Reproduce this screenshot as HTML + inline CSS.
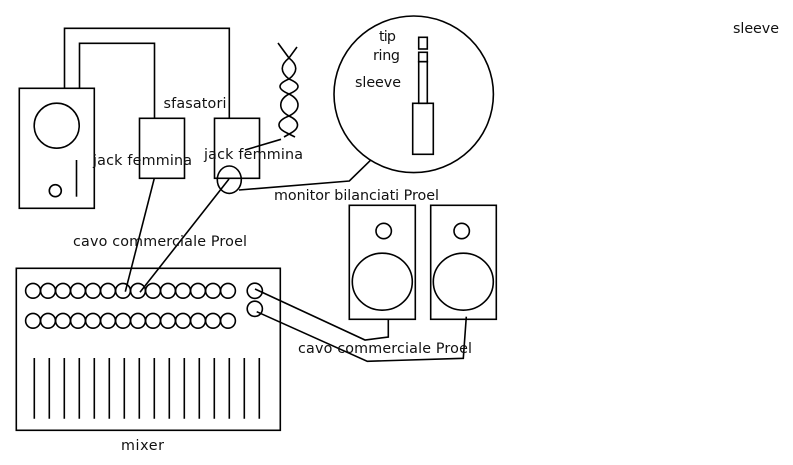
<!DOCTYPE html>
<html><head><meta charset="utf-8"><style>
html,body{margin:0;padding:0;background:#fff}
svg{display:block}
text{font-family:"DejaVu Sans",sans-serif;font-size:14.3px;fill:#111}
</style></head><body>
<svg width="793" height="465" viewBox="0 0 793 465" xmlns="http://www.w3.org/2000/svg">
<rect width="793" height="465" fill="#fff"/>
<g fill="none" stroke="#000" stroke-width="1.6">
<rect x="19.3" y="88.3" width="75" height="120"/>
<ellipse cx="56.7" cy="125.7" rx="22.5" ry="22.5"/>
<circle cx="55.3" cy="190.7" r="6"/>
<path d="M76.5 160V196.7"/>
<path d="M64.5 88.3V28.3H229.3V118.3"/>
<path d="M79.5 88.3V43.3H154.5V118.3"/>
<rect x="139.5" y="118.3" width="45" height="60"/>
<rect x="214.5" y="118.3" width="45" height="60"/>
<ellipse cx="229.3" cy="179.7" rx="12" ry="13.7"/>
<path d="M154.3 178.3L125.3 291.7"/>
<path d="M229 179L140 292.3"/>
<path d="M239 190L349.3 181L370.5 160.3"/>
<path d="M245 150L281 139.3"/>
<path d="M278 43L289 58C298 65 298 72 289 79C277 84 277 89 289 94C301 100 301 110 289 116C276 121 276 128 287 133L295 137"/>
<path d="M297 47L289 58C280 65 280 72 289 79C301 84 301 89 289 94C278 100 278 110 289 116C300 121 300 128 291 133L284 137"/>
<ellipse cx="413.7" cy="94.3" rx="79.7" ry="78.3"/>
<rect x="418.7" y="37.3" width="8.6" height="11.7"/>
<rect x="418.7" y="52.3" width="8.6" height="9.4"/>
<rect x="418.7" y="61.7" width="8.6" height="41.6"/>
<rect x="412.7" y="103.3" width="20.6" height="51"/>
<rect x="349.3" y="205.3" width="66" height="114"/>
<circle cx="383.7" cy="231" r="7.7"/>
<ellipse cx="382.3" cy="281.7" rx="30" ry="28.5"/>
<rect x="430.7" y="205.3" width="65.6" height="114"/>
<circle cx="461.7" cy="231" r="7.7"/>
<ellipse cx="463.3" cy="281.7" rx="30" ry="28.5"/>
<rect x="16.3" y="268.3" width="264" height="162"/>
<circle cx="33" cy="290.8" r="7.4"/><circle cx="48" cy="290.8" r="7.4"/><circle cx="63" cy="290.8" r="7.4"/><circle cx="78" cy="290.8" r="7.4"/><circle cx="93" cy="290.8" r="7.4"/><circle cx="108" cy="290.8" r="7.4"/><circle cx="123" cy="290.8" r="7.4"/><circle cx="138" cy="290.8" r="7.4"/><circle cx="153" cy="290.8" r="7.4"/><circle cx="168" cy="290.8" r="7.4"/><circle cx="183" cy="290.8" r="7.4"/><circle cx="198" cy="290.8" r="7.4"/><circle cx="213" cy="290.8" r="7.4"/><circle cx="228" cy="290.8" r="7.4"/>
<circle cx="33" cy="320.8" r="7.4"/><circle cx="48" cy="320.8" r="7.4"/><circle cx="63" cy="320.8" r="7.4"/><circle cx="78" cy="320.8" r="7.4"/><circle cx="93" cy="320.8" r="7.4"/><circle cx="108" cy="320.8" r="7.4"/><circle cx="123" cy="320.8" r="7.4"/><circle cx="138" cy="320.8" r="7.4"/><circle cx="153" cy="320.8" r="7.4"/><circle cx="168" cy="320.8" r="7.4"/><circle cx="183" cy="320.8" r="7.4"/><circle cx="198" cy="320.8" r="7.4"/><circle cx="213" cy="320.8" r="7.4"/><circle cx="228" cy="320.8" r="7.4"/>
<circle cx="254.8" cy="290.8" r="7.6"/>
<circle cx="254.8" cy="308.8" r="7.6"/>
<path d="M34.3 358V418.7M49.3 358V418.7M64.3 358V418.7M79.3 358V418.7M94.3 358V418.7M109.3 358V418.7M124.3 358V418.7M139.3 358V418.7M154.3 358V418.7M169.3 358V418.7M184.3 358V418.7M199.3 358V418.7M214.3 358V418.7M229.3 358V418.7M244.3 358V418.7M259.3 358V418.7"/>
<path d="M255 289L365 340L388.3 337V319.3"/>
<path d="M256.7 311.7L367.3 361.3L463.3 358.3L466.3 316.7"/>
</g>
<text x="163.5" y="108" textLength="63">sfasatori</text>
<text x="93" y="165" textLength="99">jack femmina</text>
<text x="204" y="159" textLength="99">jack femmina</text>
<text x="73" y="246" textLength="174">cavo commerciale Proel</text>
<text x="274" y="200" textLength="165">monitor bilanciati Proel</text>
<text x="379" y="41" textLength="17">tip</text>
<text x="373" y="60" textLength="27">ring</text>
<text x="355" y="87" textLength="46">sleeve</text>
<text x="733" y="33" textLength="46">sleeve</text>
<text x="298" y="353" textLength="174">cavo commerciale Proel</text>
<text x="121" y="450" textLength="43">mixer</text>
</svg>
</body></html>
